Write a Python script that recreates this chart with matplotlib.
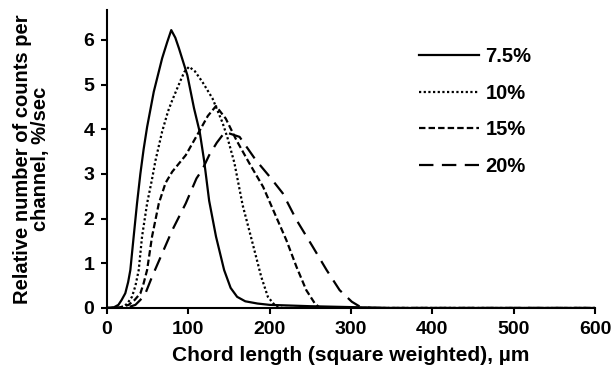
import matplotlib
matplotlib.use('Agg')
import matplotlib.pyplot as plt

# values
x_75 = [0, 8, 14, 18, 22.5, 26, 28.7, 32.8, 36.9, 41, 45, 49.3, 57.5, 67.8, 74, 79, 84, 88.5, 98.8, 107, 114,
        119.4, 125.6, 134, 144, 152, 160, 170, 185, 200, 250, 300, 350, 600]
y_75 = [0, 0.01, 0.07, 0.18, 0.33, 0.58, 0.85, 1.6, 2.34, 3.0, 3.55, 4.05, 4.84, 5.59, 5.95, 6.22, 6.05, 5.81, 5.21,
        4.47, 3.94, 3.3, 2.4, 1.6, 0.85, 0.45, 0.25, 0.15, 0.1, 0.07, 0.04, 0.02, 0, 0]

x_10 = [0, 15, 20.4, 25, 30.7, 35, 39, 43.1, 49.3, 55, 59.6, 67.8, 75, 80.2, 90.6, 95, 100.9, 108, 117.3, 129.7,
        142, 148.3, 156.6, 166.8, 179, 189.6, 197.8, 206, 215, 600]
y_10 = [0, 0.01, 0.03, 0.1, 0.25, 0.5, 0.85, 1.6, 2.34, 2.85, 3.3, 3.95, 4.4, 4.65, 5.1, 5.28, 5.4, 5.3, 5.06, 4.69,
        4.15, 3.8, 3.25, 2.3, 1.45, 0.7, 0.25, 0.07, 0, 0]

x_15 = [0, 15, 26.6, 34, 41.1, 45, 49.3, 55.4, 63.7, 72, 80.2, 96.8, 113, 124, 134, 146, 159, 175, 192, 208,
        220.5, 233, 245, 255.6, 262, 600]
y_15 = [0, 0.01, 0.07, 0.18, 0.33, 0.55, 0.85, 1.6, 2.34, 2.8, 3.05, 3.42, 3.94, 4.3, 4.52, 4.24, 3.76, 3.24, 2.71,
        2.04, 1.52, 0.92, 0.4, 0.1, 0, 0]

x_20 = [0, 25, 34.9, 41, 47.3, 55.4, 67.8, 80.2, 96.8, 110, 117.3, 125.6, 135, 145, 163, 183, 200, 216, 233, 253,
        270, 286, 301, 311, 325, 600]
y_20 = [0, 0.01, 0.07, 0.18, 0.33, 0.7, 1.22, 1.74, 2.34, 2.9, 3.1, 3.42, 3.7, 3.94, 3.83, 3.31, 2.94, 2.57, 1.97,
        1.37, 0.85, 0.4, 0.14, 0.03, 0, 0]

labels = ['7.5%', '10%', '15%', '20%']
x_ticks = [0, 100, 200, 300, 400, 500, 600]
y_ticks = [0, 1, 2, 3, 4, 5, 6]

plt.rcParams['font.family'] = ['Liberation Sans', 'DejaVu Sans']
plt.rcParams['font.weight'] = 'bold'

fig = plt.figure(figsize=(6.16, 3.76), dpi=100)
ax = fig.add_axes([107 / 616, 1 - 308 / 376, (595 - 107) / 616, (308 - 10) / 376])

ax.plot(x_75, y_75, color='black', lw=1.6, ls='-', label=labels[0])
ax.plot(x_10, y_10, color='black', lw=1.6, ls=(0, (1, 1.1)), label=labels[1])
ax.plot(x_15, y_15, color='black', lw=1.6, ls=(0, (2.9, 1.4)), label=labels[2])
ax.plot(x_20, y_20, color='black', lw=1.6, ls=(0, (6.5, 3.8)), label=labels[3])

ax.set_xlim(0, 600)
ax.set_ylim(0, 6.67)
ax.set_xticks(x_ticks)
ax.set_yticks(y_ticks)
ax.spines['top'].set_visible(False)
ax.spines['right'].set_visible(False)
for s in ['left', 'bottom']:
    ax.spines[s].set_linewidth(1.5)
ax.tick_params(direction='out', length=4, width=1.5, labelsize=14, pad=5)

ax.set_xlabel('Chord length (square weighted), µm', fontsize=15, fontweight='bold', labelpad=6)
ax.set_ylabel('Relative number of counts per\nchannel, %/sec', fontsize=14.5, fontweight='bold',
              labelpad=24, linespacing=0.95)

ax.legend(loc='upper left', bbox_to_anchor=(419 / 616, 1 - 47 / 376), bbox_transform=fig.transFigure,
          frameon=False, handlelength=3.0, handletextpad=0.3, labelspacing=0.88,
          borderpad=0, borderaxespad=0, prop={'weight': 'bold', 'size': 14.5})

fig.savefig('out.png', dpi=100)
